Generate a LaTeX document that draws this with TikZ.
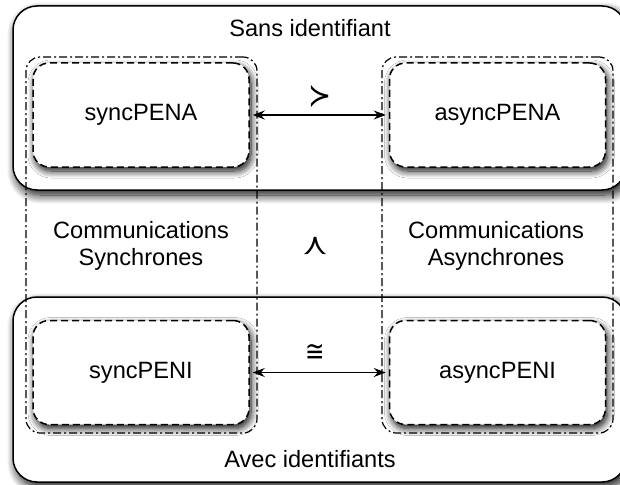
\documentclass[tikz,border=0pt]{standalone}
\usepackage{fontspec}
\setmainfont{Liberation Sans}
\newfontfamily\symfont{DejaVu Sans}
\usepackage{graphicx}
\usetikzlibrary{arrows.meta,shadows.blur}
\begin{document}
\begin{tikzpicture}[x=1pt,y=-1pt,
  txt/.style={font=\fontsize{23.6}{26.5}\selectfont, inner sep=0pt},
  sym/.style={inner sep=0pt, font=\symfont\fontsize{29}{29}\selectfont},
  outerbox/.style={draw=black, line width=1.5pt, fill=white, rounded corners=24pt,
    inner sep=0pt, minimum width=613pt, minimum height=184pt,
    blur shadow={shadow xshift=3pt, shadow yshift=-5pt, shadow blur steps=12, shadow blur radius=9pt, shadow opacity=95}},
  colbox/.style={draw=black, line width=1.2pt, rounded corners=14pt, inner sep=0pt,
    minimum width=231pt, minimum height=376pt,
    dash pattern=on 8pt off 3pt on 2pt off 3pt},
  penbox/.style={draw=black, line width=1.5pt, fill=white, rounded corners=16pt,
    inner sep=0pt, minimum width=216pt, minimum height=104pt,
    dash pattern=on 7pt off 4pt, txt,
    blur shadow={shadow xshift=2pt, shadow yshift=-4pt, shadow blur steps=10, shadow blur radius=7pt, shadow opacity=95}},
  link/.style={line width=1.3pt, {Stealth[length=12pt,width=9pt,inset=4pt]}-{Stealth[length=12pt,width=9pt,inset=4pt]}, shorten <=3pt, shorten >=3pt}
]
\useasboundingbox (0,0) rectangle (620,484);
% outer boxes
\node[outerbox] (top) at (319.5,98) {};
\node[outerbox, minimum height=185pt] (bot) at (319.5,389.5) {};
% columns
\node[colbox] (lcol) at (141.5,245) {};
\node[colbox] (rcol) at (497.5,245) {};
% PEN boxes
\node[penbox] (sA) at (141,115) {syncPENA};
\node[penbox] (aA) at (497.5,115) {asyncPENA};
\node[penbox] (sI) at (141,372.5) {syncPENI};
\node[penbox] (aI) at (497.5,372.5) {asyncPENI};
% arrows
\draw[link] (sA.east) -- (aA.west);
\draw[link] (sI.east) -- (aI.west);
% labels
\node[txt, anchor=base] (lsans) at (310,37) {Sans identifiant};
\node[txt, anchor=base] (lavec) at (310,467) {Avec identifiants};
\node[txt, align=center] (lsync) at (141,246) {Communications\\Synchrones};
\node[txt, align=center] (lasync) at (496,246) {Communications\\Asynchrones};
\node[sym] (succ) at (320,97) {\scalebox{0.95}[1.1]{≻}};
\node[sym] (wedge) at (316,246) {\rotatebox{90}{\scalebox{0.95}[1.1]{≻}}};
\node[sym] (cong) at (315,353) {\scalebox{0.8}[1.0]{≅}};
\end{tikzpicture}
\end{document}
